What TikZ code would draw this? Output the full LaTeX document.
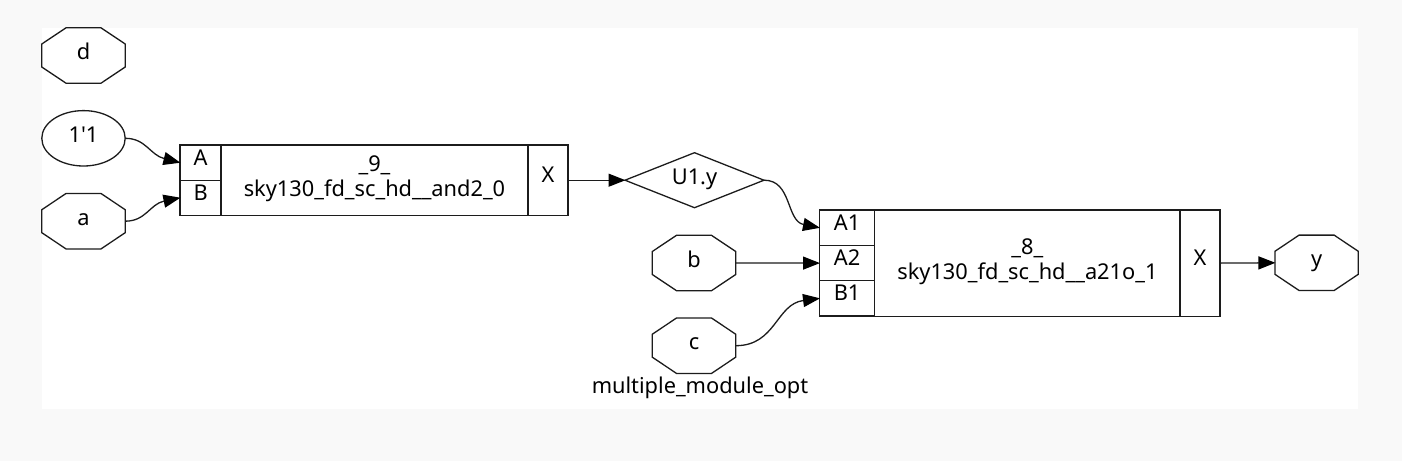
\documentclass[tikz,border=0pt]{standalone}
\usepackage{fontspec}
\setmainfont{Noto Sans}
\newfontfamily\labelfont{Noto Sans}
\usetikzlibrary{arrows.meta,shapes.geometric}
\definecolor{pagebg}{HTML}{F9F9F9}
\definecolor{inkline}{HTML}{1C1C1C}
\tikzset{
  x=1pt,y=-1pt,
  lbl/.style={font=\labelfont\fontsize{21.8}{25}\selectfont,inner sep=0pt,outer sep=0pt,text=black,align=center},
  termbox/.style={lbl,minimum width=83.4pt,minimum height=55.4pt,text height=13.5pt,text depth=5.5pt},
  diabox/.style={lbl,minimum width=139pt,minimum height=55pt,text height=13.5pt,text depth=5.5pt},
  oval/.style={termbox,ellipse,draw=inkline,line width=1.3pt},
  cell/.style={lbl,draw=inkline,line width=1.3pt,text height=12pt,text depth=7pt},
  midcell/.style={lbl,draw=inkline,line width=1.3pt},
  outline/.style={draw=inkline,line width=1.3pt,line join=miter},
  wire/.style={draw=inkline,line width=1.3pt,-{Triangle[length=17pt,width=13pt,color=black]},shorten >=-0.5pt},
}
\newcommand{\octnode}[4]{%
  \node[termbox] (#1) at (#2,#3) {#4};
  \draw[outline,shift={(#1.center)}] (-41.7,-11.5) -- (-17.5,-27.7) -- (17.5,-27.7) -- (41.7,-11.5)
    -- (41.7,11.5) -- (17.5,27.7) -- (-17.5,27.7) -- (-41.7,11.5) -- cycle;
}
\begin{document}
\begin{tikzpicture}
\useasboundingbox (0,0) rectangle (1402,461);
\fill[pagebg] (0,0) rectangle (1402,461);
\fill[white] (42,28) rectangle (1358.3,408.5);

\octnode{d}{83.5}{55.5}{d}
\node[oval] (one) at (83.5,138.3) {1'1};
\octnode{a}{83.5}{221.2}{a}
\octnode{b}{694}{263}{b}
\octnode{c}{694}{345.7}{c}
\octnode{y}{1316.6}{262.8}{y}

% and2 record
\node[cell,minimum width=41.3pt,minimum height=35.2pt] (A) at (200.6,162.6) {A};
\node[cell,minimum width=41.3pt,minimum height=35.2pt] (B) at (200.6,197.8) {B};
\node[midcell,minimum width=307pt,minimum height=70.4pt] (and) at (374.5,180.2) {};
\node[lbl] (andtext) at ([yshift=1.5pt]and.center) {\_9\_\\sky130\_fd\_sc\_hd\_\_and2\_0};
\node[cell,minimum width=40pt,minimum height=70.4pt] (X9) at (548,180.2) {X};

% U1.y
\node[diabox] (u) at (694.5,180.2) {U1.y};
\draw[outline] (u.west) -- (u.north) -- (u.east) -- (u.south) -- cycle;

% a21o record
\node[cell,minimum width=55.2pt,minimum height=35.4pt] (A1) at (847.1,227.7) {A1};
\node[cell,minimum width=55.2pt,minimum height=35.4pt] (A2) at (847.1,263.1) {A2};
\node[cell,minimum width=55.2pt,minimum height=35.4pt] (B1) at (847.1,298.4) {B1};
\node[midcell,minimum width=305.3pt,minimum height=106.1pt] (aoi) at (1027.4,263.1) {};
\node[lbl] (aoitext) at ([yshift=1.5pt]aoi.center) {\_8\_\\sky130\_fd\_sc\_hd\_\_a21o\_1};
\node[cell,minimum width=40pt,minimum height=106.1pt] (X8) at (1200,263.1) {X};

\node[lbl] (title) at (700,388) {multiple\_module\_opt};

% connectors
\draw[wire] (one.east) .. controls (146,138.3) and (150,155) .. (A.west);
\draw[wire] (a.east) .. controls (146,221.2) and (150,204) .. (B.west);
\draw[wire] (X9.east) -- (u.west);
\draw[wire] (u.east) .. controls (792,180) and (786,221) .. (A1.west);
\draw[wire] (b.east) -- (A2.west);
\draw[wire] (c.east) .. controls (776,345.7) and (776,304) .. (B1.west);
\draw[wire] (X8.east) -- (y.west);
\end{tikzpicture}
\end{document}
